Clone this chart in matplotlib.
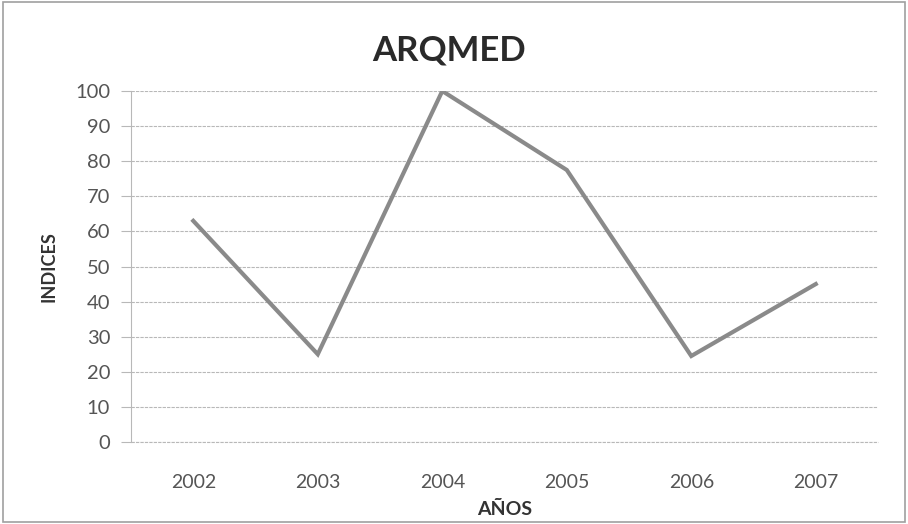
import matplotlib.pyplot as plt
from matplotlib.patches import Rectangle

plt.rcParams['font.family'] = ['Lato', 'DejaVu Sans']

years = ["2002", "2003", "2004", "2005", "2006", "2007"]
indices = [63, 25, 100, 77.5, 24.5, 45]
y_ticks = list(range(0, 101, 10))

fig = plt.figure(figsize=(9.08, 5.24), dpi=100)
ax = fig.add_axes([0.1443, 0.1565, 0.8227, 0.6698])

x = range(len(years))
ax.plot(x, indices, color="#8a8a8a", linewidth=3, solid_joinstyle="miter", zorder=3)

ax.set_xlim(-0.5, len(years) - 0.5)
ax.set_ylim(0, 100)
ax.set_yticks(y_ticks)
ax.set_xticks(list(x))
ax.set_xticklabels(years)

ax.grid(axis="y", color="#b8b8b8", linestyle=(0, (3, 1)), linewidth=0.8)
ax.axhline(0, color="#b8b8b8", linestyle=(0, (3, 1)), linewidth=0.8, clip_on=False, zorder=1)
ax.set_axisbelow(True)
for side in ["top", "right", "bottom"]:
    ax.spines[side].set_visible(False)
ax.spines["left"].set_color("#b8b8b8")
ax.spines["left"].set_linewidth(0.8)

ax.tick_params(axis="y", length=7, width=0.8, color="#b8b8b8", labelsize=14.5,
               labelcolor="#555555", pad=8)
ax.tick_params(axis="x", length=0, labelsize=14, labelcolor="#555555", pad=23)

fig.text(0.495, 0.885, "ARQMED", ha="center", va="baseline", fontsize=25,
         fontweight="bold", color="#2a2a2a")
ax.set_xlabel("AÑOS", fontsize=14, fontweight="bold", color="#333333", labelpad=7)
ax.set_ylabel("INDICES", fontsize=13, fontweight="bold", color="#333333", labelpad=13)

fig.patches.append(Rectangle((0.003, 0.003), 0.994, 0.994, transform=fig.transFigure,
                             fill=False, edgecolor="#a0a0a0", linewidth=1.2))

fig.savefig("out.png", dpi=100)
